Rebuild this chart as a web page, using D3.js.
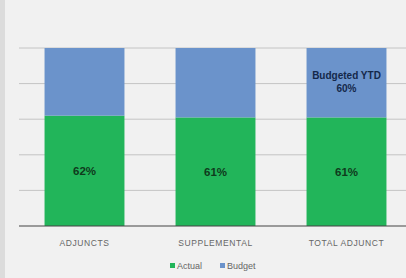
<!DOCTYPE html>
<html>
<head>
<script src="https://d3js.org/d3.v7.min.js"></script>
<style>
  body { margin:0; background:#f1f1f1; }
  svg { display:block; font-family:"Liberation Sans", Arial, sans-serif; }
</style>
</head>
<body>
<script>
var categories = ["ADJUNCTS", "SUPPLEMENTAL", "TOTAL ADJUNCT"];
var actual = [62, 61, 61];
var budget = [38, 39, 39];
var budgetLabel = ["Budgeted YTD", "60%"];
var yTicks = [0, 20, 40, 60, 80, 100];

var W = 406, H = 278;
var svg = d3.select("body").append("svg").attr("width", W).attr("height", H);

svg.append("rect").attr("width", W).attr("height", H).attr("fill", "#f1f1f1");
svg.append("rect").attr("width", 5).attr("height", H).attr("fill", "#dcdcdc");

var x = d3.scaleBand().domain(categories).range([19, 412]).paddingInner(0.39).paddingOuter(0.195);
var y = d3.scaleLinear().domain([0, 100]).range([226, 48]);

// gridlines
svg.append("g").selectAll("line").data(yTicks.slice(1)).enter().append("line")
  .attr("x1", 19).attr("x2", 406)
  .attr("y1", function(d){ return y(d); }).attr("y2", function(d){ return y(d); })
  .attr("stroke", "#c4c4c4").attr("stroke-width", 1);

var rows = categories.map(function(c, i){ return {cat:c, actual:actual[i], budget:budget[i]}; });
var stack = d3.stack().keys(["actual", "budget"])(rows);
var colors = {actual:"#22b55a", budget:"#6b93cb"};

svg.append("g").selectAll("g").data(stack).enter().append("g")
  .attr("fill", function(d){ return colors[d.key]; })
  .selectAll("rect").data(function(d){ return d; }).enter().append("rect")
  .attr("x", function(d){ return x(d.data.cat); })
  .attr("width", x.bandwidth())
  .attr("y", function(d){ return y(d[1]); })
  .attr("height", function(d){ return y(d[0]) - y(d[1]); });

// baseline
svg.append("line").attr("x1", 19).attr("x2", 406).attr("y1", y(0)).attr("y2", y(0))
  .attr("stroke", "#444").attr("stroke-width", 1.2);

// actual labels
svg.append("g").selectAll("text").data(rows).enter().append("text")
  .attr("x", function(d){ return x(d.cat) + x.bandwidth()/2; })
  .attr("y", function(d){ return (y(0) + y(d.actual))/2 + 4; })
  .attr("text-anchor", "middle").attr("font-size", 11.5).attr("font-weight", "bold")
  .attr("fill", "#0f3a1c")
  .text(function(d){ return d.actual + "%"; });

// budget label on last bar
var last = categories[categories.length - 1];
svg.append("g").selectAll("text").data(budgetLabel).enter().append("text")
  .attr("x", x(last) + x.bandwidth()/2)
  .attr("y", function(d, i){ return 79 + i*13; })
  .attr("text-anchor", "middle").attr("font-size", 10).attr("font-weight", "bold")
  .attr("fill", "#14284a")
  .text(function(d){ return d; });

// category axis labels
svg.append("g").selectAll("text").data(categories).enter().append("text")
  .attr("x", function(d){ return x(d) + x.bandwidth()/2; })
  .attr("y", 246)
  .attr("text-anchor", "middle").attr("font-size", 8.5).attr("letter-spacing", 0.6)
  .attr("fill", "#666")
  .text(function(d){ return d; });

// legend
var legend = [{k:"actual", t:"Actual", x:170}, {k:"budget", t:"Budget", x:220}];
var lg = svg.append("g").selectAll("g").data(legend).enter().append("g")
  .attr("transform", function(d){ return "translate(" + d.x + ",268)"; });
lg.append("rect").attr("x", 0).attr("y", -5).attr("width", 5).attr("height", 5)
  .attr("fill", function(d){ return colors[d.k]; });
lg.append("text").attr("x", 7).attr("y", 0.5).attr("font-size", 9).attr("fill", "#666")
  .text(function(d){ return d.t; });
</script>
</body>
</html>
